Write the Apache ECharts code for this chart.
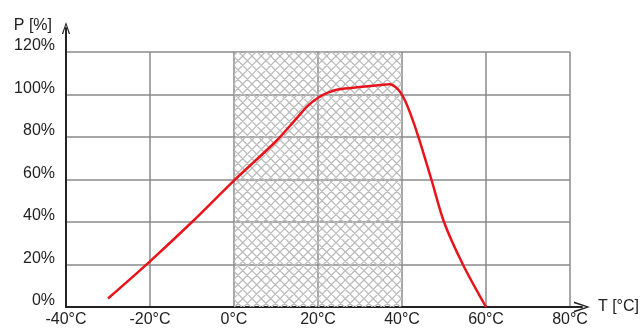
<!DOCTYPE html>
<html>
<head>
<meta charset="utf-8">
<script src="https://cdn.jsdelivr.net/npm/echarts@6/dist/echarts.min.js"></script>
<style>
  html, body { margin: 0; padding: 0; background: #fff; }
  #chart { width: 642px; height: 331px; }
</style>
</head>
<body>
<div id="chart"></div>
<script>
// temperature (°C) and relative power (%)
const temps = [-30, -20, -10, 0, 10, 15, 17.5, 20, 22.5, 25, 30, 35, 37, 39, 40.5, 42, 44, 47, 50, 54.5, 60];
const power = [4, 21.5, 40, 59.5, 78, 89, 94.5, 98.5, 101, 102.5, 103.5, 104.5, 104.8, 102.5, 98, 91, 79.5, 60, 40, 20, 0];
// hatched operating range
const hatchRange = [0, 40];
const xTicks = [-40, 20, 80]; // min, step, max
const yTicks = [0, 20, 120];

// cross hatch pattern for the marked range
function hatchPattern() {
  const size = 28;
  const step = size / 3;
  const c = document.createElement("canvas");
  c.width = size;
  c.height = size;
  const ctx = c.getContext("2d");
  ctx.strokeStyle = "#bcbcbc";
  ctx.lineWidth = 1.3;
  ctx.beginPath();
  for (let k = -size; k <= 2 * size; k += step) {
    ctx.moveTo(k, 0); ctx.lineTo(k + size, size);
    ctx.moveTo(k, size); ctx.lineTo(k + size, 0);
  }
  ctx.stroke();
  return c;
}

const chevron = "path://M0,16 L5.5,0 L11,16 L9.2,16 L5.5,4 L1.8,16 Z";
const labelFont = { color: "#222", fontSize: 16, fontFamily: "Liberation Sans, Arial, sans-serif" };

const chart = echarts.init(document.getElementById("chart"));
const option = {
  animation: false,
  grid: [
    { left: 66, right: 72, top: 52, bottom: 24 },
    { left: 66, right: 48, top: 28, bottom: 24 },
  ],
  xAxis: [
    {
      type: "value",
      gridIndex: 0,
      min: xTicks[0],
      max: xTicks[2],
      interval: xTicks[1],
      axisLine: { show: false },
      axisTick: { show: false },
      axisLabel: Object.assign({ margin: 5, formatter: "{value}°C" }, labelFont),
      splitLine: { lineStyle: { color: "#8a8a8a", width: 1.5 } },
    },
    {
      type: "value",
      gridIndex: 1,
      min: 0,
      max: 1,
      axisLine: {
        show: true,
        symbol: ["none", chevron],
        symbolSize: [11, 16],
        lineStyle: { color: "#222", width: 2 },
      },
      axisTick: { show: false },
      axisLabel: { show: false },
      splitLine: { show: false },
      name: "T [°C]",
      nameLocation: "end",
      nameGap: 16,
      nameTextStyle: Object.assign({ padding: [12, 0, 0, 0] }, labelFont),
    },
  ],
  yAxis: [
    {
      type: "value",
      gridIndex: 0,
      min: yTicks[0],
      max: yTicks[2],
      interval: yTicks[1],
      axisLine: { show: false },
      axisTick: { show: false },
      axisLabel: Object.assign({ margin: 11, formatter: "{value}%", verticalAlign: "bottom", lineHeight: 12 }, labelFont),
      splitLine: { lineStyle: { color: "#8a8a8a", width: 1.5 } },
    },
    {
      type: "value",
      gridIndex: 1,
      min: 0,
      max: 1,
      axisLine: {
        show: true,
        symbol: ["none", chevron],
        symbolSize: [11, 12],
        lineStyle: { color: "#222", width: 2 },
      },
      axisTick: { show: false },
      axisLabel: { show: false },
      splitLine: { show: false },
      name: "P [%]",
      nameLocation: "end",
      nameGap: 2,
      nameTextStyle: Object.assign({ align: "right", verticalAlign: "middle", padding: [0, 14, 0, 0] }, labelFont),
    },
  ],
  series: [
    {
      type: "line",
      xAxisIndex: 0,
      yAxisIndex: 0,
      data: temps.map((t, i) => [t, power[i]]),
      smooth: 0.3,
      showSymbol: false,
      lineStyle: { color: "#e8141c", width: 2.5 },
      markArea: {
        silent: true,
        itemStyle: { color: { image: hatchPattern(), repeat: "repeat" } },
        data: [[{ xAxis: hatchRange[0], yAxis: yTicks[0] }, { xAxis: hatchRange[1], yAxis: yTicks[2] }]],
      },
    },
  ],
};
chart.setOption(option);
</script>
</body>
</html>
